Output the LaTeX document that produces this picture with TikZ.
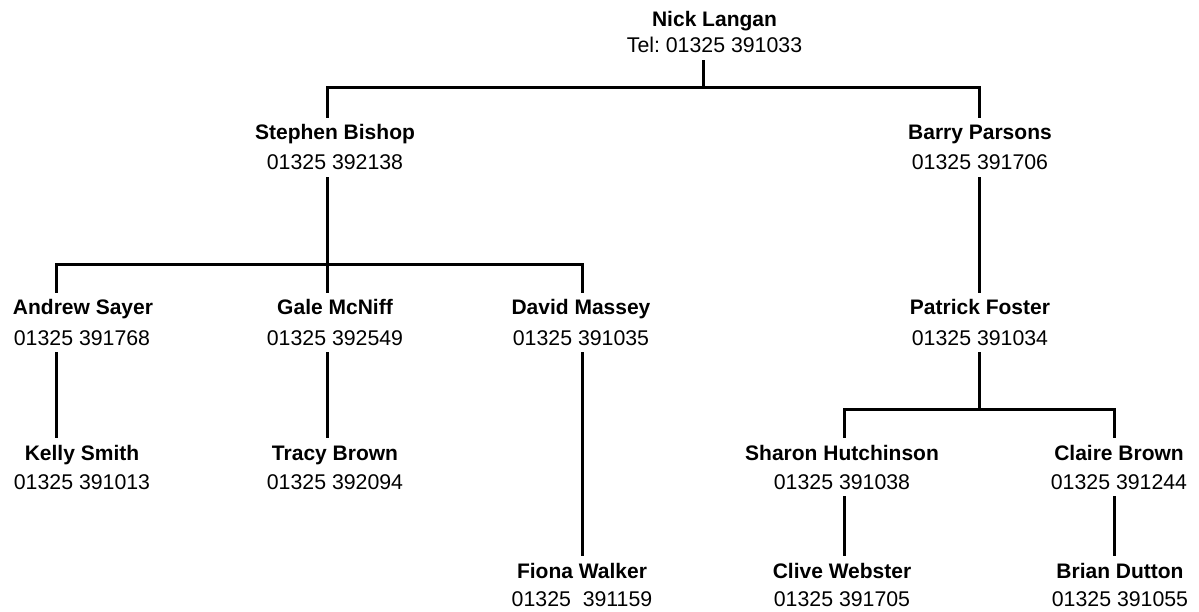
\documentclass[tikz,border=0pt]{standalone}
\usepackage{fontspec}
\setmainfont{Liberation Sans}
\frenchspacing
\begin{document}
\begin{tikzpicture}[x=1pt,y=-1pt,
  pname/.style={inner xsep=0pt, inner ysep=7pt, anchor=base, font=\fontsize{21}{25}\selectfont\bfseries},
  ptel/.style={inner xsep=0pt, inner ysep=7pt, anchor=base, font=\fontsize{21.3}{25}\selectfont},
  conn/.style={line width=3pt, black}]
\useasboundingbox (0,0) rectangle (1199,612);
% level 0
\node[pname] (nick) at (714.5,27) {Nick Langan};
\node[ptel] (nick-tel) at (714.5,53) {Tel:\ 01325 391033};
% level 1
\node[pname] (stephen) at (335,140) {Stephen Bishop};
\node[ptel] (stephen-tel) at (335,170) {01325 392138};
\node[pname] (barry) at (980,140) {Barry Parsons};
\node[ptel] (barry-tel) at (980,170) {01325 391706};
% level 2
\node[pname] (andrew) at (83,315) {Andrew Sayer};
\node[ptel] (andrew-tel) at (82,345) {01325 391768};
\node[pname] (gale) at (335,315) {Gale McNiff};
\node[ptel] (gale-tel) at (335,345) {01325 392549};
\node[pname] (david) at (581,315) {David Massey};
\node[ptel] (david-tel) at (581,345) {01325 391035};
\node[pname] (patrick) at (980,315) {Patrick Foster};
\node[ptel] (patrick-tel) at (980,345) {01325 391034};
% level 3
\node[pname] (kelly) at (82,460) {Kelly Smith};
\node[ptel] (kelly-tel) at (82,489) {01325 391013};
\node[pname] (tracy) at (335,460) {Tracy Brown};
\node[ptel] (tracy-tel) at (335,489) {01325 392094};
\node[pname] (sharon) at (842,460) {Sharon Hutchinson};
\node[ptel] (sharon-tel) at (842,489) {01325 391038};
\node[pname] (claire) at (1119,460) {Claire Brown};
\node[ptel] (claire-tel) at (1119,489) {01325 391244};
% level 4
\node[pname] (fiona) at (582,578) {Fiona Walker};
\node[ptel] (fiona-tel) at (582,606) {01325\ \ 391159};
\node[pname] (clive) at (842,578) {Clive Webster};
\node[ptel] (clive-tel) at (842,606) {01325 391705};
\node[pname] (brian) at (1120,578) {Brian Dutton};
\node[ptel] (brian-tel) at (1120,606) {01325 391055};
% junction coordinates
\coordinate (jTop) at (703,88);
\coordinate (cS) at (327,88);
\coordinate (cB) at (979,88);
\coordinate (bA) at (56,265);
\coordinate (bG) at (327,265);
\coordinate (bD) at (582,265);
\coordinate (bP) at (979,409);
\coordinate (bSh) at (844,409);
\coordinate (bCl) at (1114,409);
% connectors
\draw[conn] (nick-tel.south -| jTop) -- (jTop);
\draw[conn] (stephen.north -| cS) -- (cS) -- (cB) -- (barry.north -| cB);
\draw[conn] (stephen-tel.south -| bG) -- (gale.north -| bG);
\draw[conn] (andrew.north -| bA) -- (bA) -- (bD) -- (david.north -| bD);
\draw[conn] (barry-tel.south -| cB) -- (patrick.north -| cB);
\draw[conn] (andrew-tel.south -| bA) -- (kelly.north -| bA);
\draw[conn] (gale-tel.south -| bG) -- (tracy.north -| bG);
\draw[conn] (david-tel.south -| bD) -- (fiona.north -| bD);
\draw[conn] (patrick-tel.south -| bP) -- (bP);
\draw[conn] (sharon.north -| bSh) -- (bSh) -- (bCl) -- (claire.north -| bCl);
\draw[conn] (sharon-tel.south -| bSh) -- (clive.north -| bSh);
\draw[conn] (claire-tel.south -| bCl) -- (brian.north -| bCl);
\end{tikzpicture}
\end{document}
